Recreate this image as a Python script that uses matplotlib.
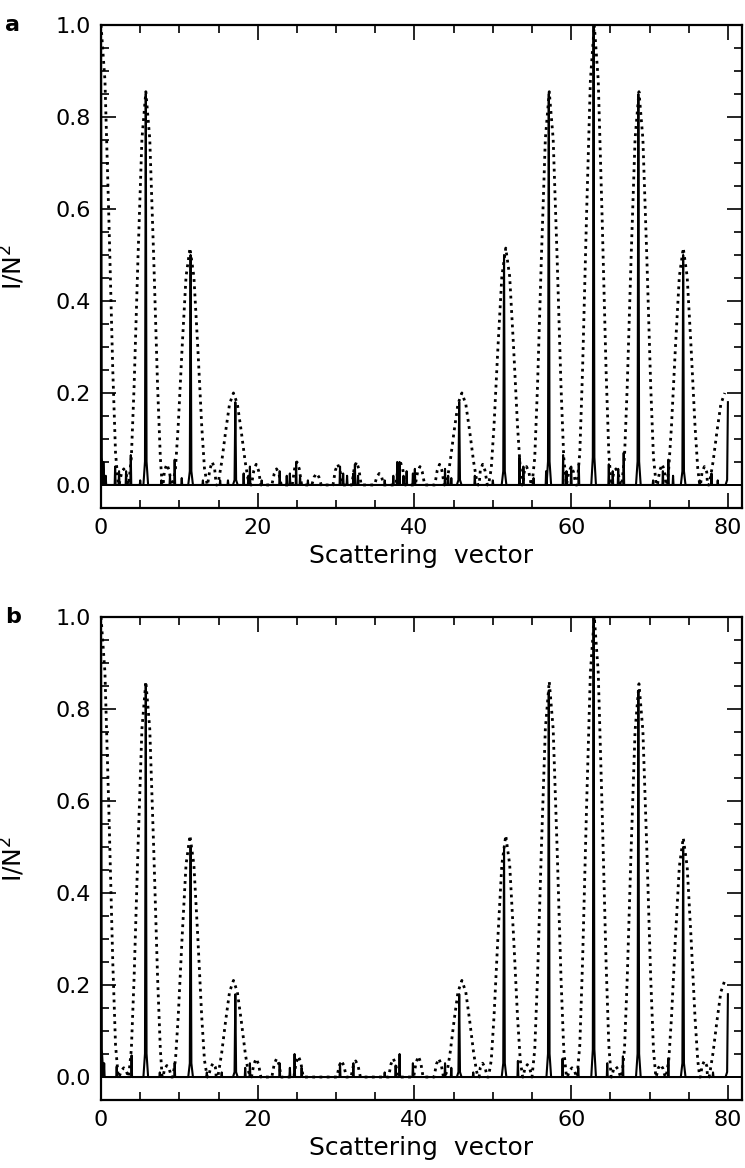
import numpy as np
import matplotlib
matplotlib.use("Agg")
import matplotlib.pyplot as plt
from matplotlib.ticker import MultipleLocator, FormatStrFormatter

# main Bragg-like peaks (solid curve)
peak_x = [0.0, 5.71, 11.43, 17.14, 45.71, 51.43, 57.14, 62.86, 68.57, 74.29, 80.0]
solid_h_a = [1.0, 0.85, 0.50, 0.18, 0.18, 0.50, 0.85, 1.0, 0.85, 0.50, 0.18]
solid_h_b = [1.0, 0.85, 0.50, 0.18, 0.18, 0.50, 0.84, 1.0, 0.84, 0.50, 0.18]

# broad peaks (dotted curve)
dotted_x = [0.0, 5.72, 11.35, 16.9, 46.05, 51.65, 57.2, 62.95, 68.65, 74.3, 79.6]
dotted_h_a = [1.0, 0.855, 0.515, 0.20, 0.20, 0.515, 0.855, 1.0, 0.855, 0.515, 0.20]
dotted_h_b = [1.0, 0.86, 0.525, 0.21, 0.21, 0.525, 0.86, 1.0, 0.855, 0.52, 0.21]

# small side bumps of the dotted curve
ripple_x_a = [2.9, 8.4, 14.2, 19.8, 22.4, 25.0, 27.5, 30.2, 32.6, 35.5, 38.2, 40.7, 43.2,
              48.7, 54.3, 60.0, 65.7, 71.6, 77.0]
ripple_h_a = [0.035, 0.045, 0.05, 0.045, 0.035, 0.05, 0.025, 0.045, 0.05, 0.025, 0.05, 0.04, 0.045,
              0.045, 0.04, 0.04, 0.035, 0.045, 0.04]
ripple_x_b = [2.9, 8.4, 14.3, 19.8, 22.4, 25.2, 30.7, 32.5, 37.3, 40.5, 43.1, 48.7, 54.4,
              60.1, 65.7, 71.4, 77.0]
ripple_h_b = [0.02, 0.025, 0.03, 0.04, 0.04, 0.045, 0.035, 0.035, 0.04, 0.045, 0.04, 0.03, 0.027,
              0.02, 0.023, 0.027, 0.035]

# noise spikes of the solid curve
spike_x_a = [0.3, 0.6, 1.8, 2.3, 3.2, 3.8, 5.0, 7.7, 8.8, 9.4, 10.3, 13.0, 15.2, 16.2,
             18.2, 18.8, 19.0, 20.5, 22.8, 23.7, 24.1, 24.9, 25.4, 26.4, 30.5, 30.9, 31.4,
             32.2, 32.4, 32.8, 36.2, 37.3, 37.8, 38.1, 38.6, 39.0, 39.8, 40.05, 43.9, 44.3,
             44.7, 47.7, 50.0, 53.4, 53.9, 55.2, 56.8, 58.97, 59.4, 60.0, 60.97, 64.8, 65.3,
             66.0, 66.7, 70.45, 71.7, 72.4, 73.0, 76.4, 77.9, 78.7]
spike_h_a = [0.05, 0.02, 0.04, 0.03, 0.03, 0.065, 0.01, 0.01, 0.02, 0.055, 0.015, 0.01, 0.01, 0.01,
             0.025, 0.02, 0.04, 0.01, 0.03, 0.02, 0.025, 0.05, 0.02, 0.01, 0.04, 0.025, 0.02,
             0.025, 0.045, 0.02, 0.01, 0.02, 0.05, 0.05, 0.02, 0.03, 0.025, 0.035, 0.035, 0.02,
             0.015, 0.02, 0.01, 0.06, 0.04, 0.015, 0.03, 0.065, 0.03, 0.04, 0.045, 0.045, 0.03,
             0.035, 0.07, 0.01, 0.03, 0.055, 0.02, 0.01, 0.025, 0.01]
spike_x_b = [0.4, 2.0, 3.9, 7.5, 9.4, 13.5, 15.4, 18.4, 19.0, 22.8, 24.1, 24.7, 25.6, 30.5,
             32.2, 36.2, 37.6, 38.1, 39.8, 43.9, 44.7, 47.5, 53.2, 58.9, 60.9, 64.6, 66.6,
             72.4, 78.1]
spike_h_b = [0.03, 0.023, 0.047, 0.01, 0.03, 0.01, 0.01, 0.02, 0.03, 0.03, 0.02, 0.05, 0.02, 0.03,
             0.03, 0.01, 0.025, 0.05, 0.03, 0.03, 0.02, 0.01, 0.035, 0.04, 0.02, 0.03, 0.045,
             0.04, 0.01]

broad_dx = [-2.2, -1.85, -1.5, -1.0, -0.5, 0.0, 0.5, 1.0, 1.5, 1.85, 2.2]
broad_rel = [0.0, 0.07, 0.25, 0.58, 0.88, 1.0, 0.88, 0.58, 0.25, 0.07, 0.0]
ripple_dx = [-0.6, -0.3, 0.0, 0.3, 0.6]
ripple_rel = [0.0, 0.7, 1.0, 0.7, 0.0]
sharp_dx = [-0.3, -0.1, 0.0, 0.1, 0.3]
sharp_rel = [0.0, 0.06, 1.0, 0.06, 0.0]
spike_dx = [-0.06, 0.0, 0.06]
spike_rel = [0.0, 1.0, 0.0]


def outline(groups, xmin=0.0, xmax=80.0):
    xs, ys = [], []
    for centers, heights, dx, rel in groups:
        for c, h in zip(centers, heights):
            for d, r in zip(dx, rel):
                xs.append(c + d)
                ys.append(h * r)
    xs, ys = np.array(xs), np.array(ys)
    keep = (xs >= xmin) & (xs <= xmax)
    xs, ys = xs[keep], ys[keep]
    order = np.argsort(xs, kind="stable")
    return xs[order], ys[order]


def draw_panel(ax, solid_h, dotted_h, rip_x, rip_h, sp_x, sp_h, letter):
    sx, sy = outline([(peak_x, solid_h, sharp_dx, sharp_rel),
                      (sp_x, sp_h, spike_dx, spike_rel)])
    dx, dy = outline([(dotted_x, dotted_h, broad_dx, broad_rel),
                      (rip_x, rip_h, ripple_dx, ripple_rel)])
    ax.axhline(0, color="black", lw=1.4, zorder=2)
    ax.plot(sx, sy, color="black", lw=1.5, zorder=3)
    ax.plot(dx, dy, color="black", lw=2.0, linestyle=(0, (1.0, 1.6)), zorder=4)

    ax.set_xlim(0, 81.8)
    ax.set_ylim(-0.05, 1.0)
    ax.xaxis.set_major_locator(MultipleLocator(20))
    ax.xaxis.set_minor_locator(MultipleLocator(5))
    ax.yaxis.set_major_locator(MultipleLocator(0.2))
    ax.yaxis.set_minor_locator(MultipleLocator(0.05))
    ax.yaxis.set_major_formatter(FormatStrFormatter("%.1f"))
    ax.tick_params(which="both", direction="in", top=True, right=True, width=1.2,
                   labelsize=16, pad=7)
    ax.tick_params(which="major", length=11)
    ax.tick_params(which="minor", length=6)
    for s in ax.spines.values():
        s.set_linewidth(1.6)

    ax.set_xlabel("Scattering  vector", fontsize=18)
    ax.xaxis.set_label_coords(0.5, -0.075)
    ax.set_ylabel("I/N$^{\\mathregular{2}}$", fontsize=18)
    ax.yaxis.set_label_coords(-0.115, 0.5)
    ax.text(-0.15, 1.0, letter, transform=ax.transAxes, fontsize=16,
            fontweight="bold", ha="left", va="center")


fig = plt.figure(figsize=(7.45, 11.68), dpi=100)
ax_a = fig.add_axes([0.1356, 0.5651, 0.8604, 0.4135])
ax_b = fig.add_axes([0.1356, 0.0582, 0.8604, 0.4135])

draw_panel(ax_a, solid_h_a, dotted_h_a, ripple_x_a, ripple_h_a, spike_x_a, spike_h_a, "a")
draw_panel(ax_b, solid_h_b, dotted_h_b, ripple_x_b, ripple_h_b, spike_x_b, spike_h_b, "b")

fig.savefig("out.png", dpi=100)
